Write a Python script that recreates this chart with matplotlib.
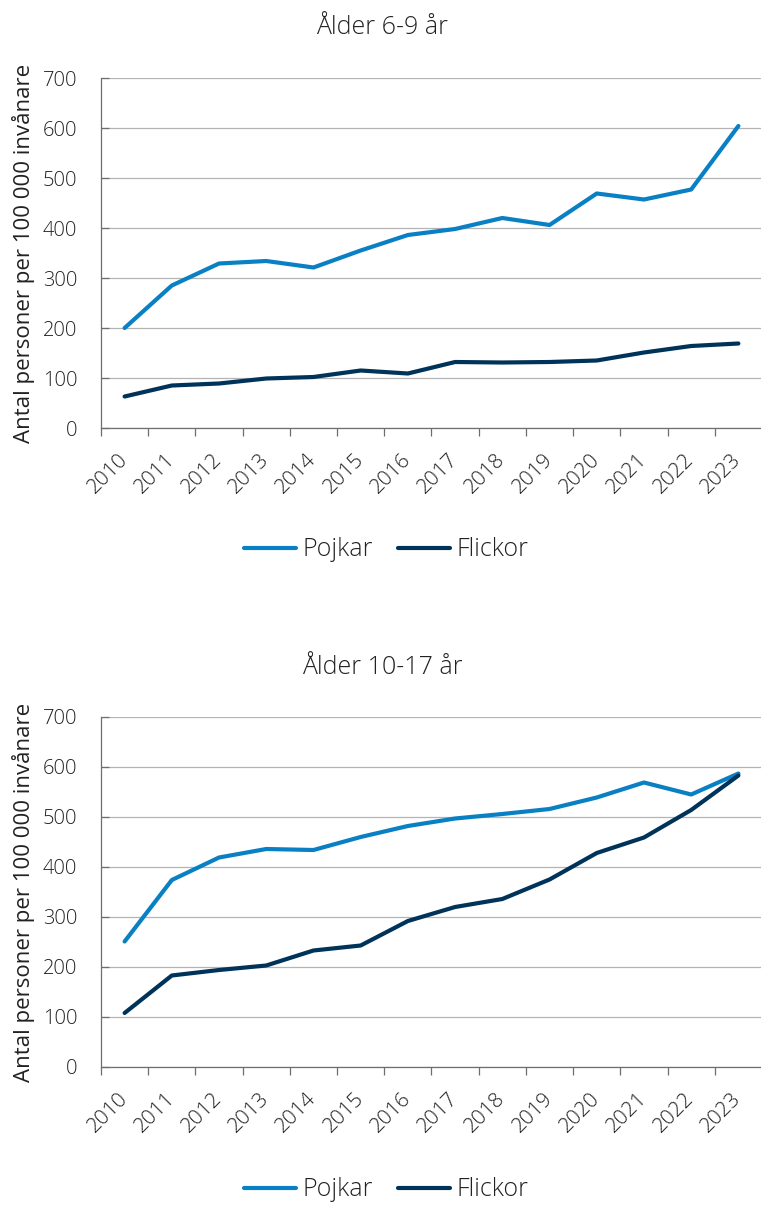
import matplotlib
matplotlib.use("Agg")
import matplotlib.pyplot as plt
from matplotlib.ticker import FixedLocator

plt.rcParams['font.family'] = ['Open Sans', 'DejaVu Sans']
plt.rcParams['font.weight'] = 'light'

years = [str(y) for y in range(2010, 2024)]

# Ålder 6-9 år
pojkar_6_9 = [200, 285, 329, 334, 321, 355, 386, 398, 420, 406, 469, 457, 477, 604]
flickor_6_9 = [63, 85, 89, 99, 102, 115, 109, 132, 131, 132, 135, 151, 164, 169]

# Ålder 10-17 år
pojkar_10_17 = [251, 374, 419, 436, 434, 460, 482, 497, 506, 516, 539, 569, 545, 587]
flickor_10_17 = [108, 183, 194, 203, 233, 243, 292, 320, 336, 375, 428, 459, 514, 583]

titles = ['Ålder 6-9 år', 'Ålder 10-17 år']
ylabel = 'Antal personer per 100 000 invånare'
c_pojkar = '#0a80c4'
c_flickor = '#00335a'
txt = '#222222'
axc = '#6e6e6e'

W, H = 761, 1205
fig = plt.figure(figsize=(W / 100, H / 100), dpi=100)

panels = [
    (pojkar_6_9, flickor_6_9, 78, 28, 550),
    (pojkar_10_17, flickor_10_17, 717, 668, 1190),
]

for i, (pojk, flick, top_px, title_px, leg_px) in enumerate(panels):
    left, right = 101, 762
    ax = fig.add_axes([left / W, 1 - (top_px + 350) / H, (right - left) / W, 350 / H])
    x = range(len(years))
    ax.plot(x, pojk, color=c_pojkar, lw=3, solid_capstyle='round', label='Pojkar')
    ax.plot(x, flick, color=c_flickor, lw=3, solid_capstyle='round', label='Flickor')
    ax.set_xlim(-0.5, len(years) - 0.5)
    ax.set_ylim(0, 700)
    ax.set_yticks(range(0, 701, 100))
    ax.grid(axis='y', color='#b4b4b4', lw=0.9)
    ax.set_axisbelow(True)
    for s in ['top', 'right']:
        ax.spines[s].set_visible(False)
    for s in ['left', 'bottom']:
        ax.spines[s].set_color(axc)
        ax.spines[s].set_linewidth(0.9)
    ax.set_xticks(list(x))
    ax.set_xticklabels(years, rotation=45, ha='right', va='center', rotation_mode='anchor')
    ax.xaxis.set_minor_locator(FixedLocator([k - 0.5 for k in range(len(years) + 1)]))
    ax.tick_params(axis='x', which='major', length=0, pad=21, labelsize=15, colors=txt)
    ax.tick_params(axis='x', which='minor', length=6, width=0.9, color=axc)
    ax.tick_params(axis='y', direction='in', length=6, width=0.9, color=axc,
                   pad=17, labelsize=14.5, labelcolor=txt)
    ax.set_ylabel(ylabel, fontsize=16, color=txt)
    ax.yaxis.set_label_coords(-0.1, 0.5)
    fig.text(382 / W, 1 - title_px / H, titles[i], ha='center', va='center',
             fontsize=18, color=txt)
    fig.legend(handles=ax.get_lines(), loc='center', bbox_to_anchor=(386 / W, 1 - leg_px / H),
               ncol=2, frameon=False, fontsize=18, handlelength=2.1, columnspacing=1.0,
               handletextpad=0.25, labelcolor=txt)

fig.savefig('out.png', dpi=100)
